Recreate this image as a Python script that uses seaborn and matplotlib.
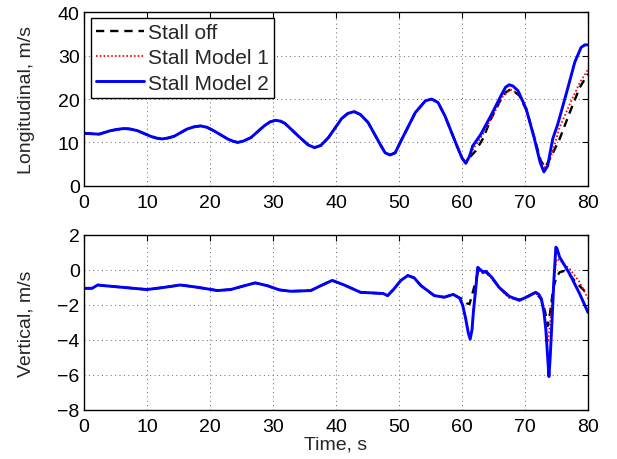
import numpy as np
import pandas as pd
import matplotlib
matplotlib.use("Agg")
import matplotlib.pyplot as plt
import seaborn as sns

# ---- data (time in s, speeds in m/s) ----
# longitudinal: part common to all three runs (t <= 60.6)
t_lon_shared = [0, 2.4, 4.2, 5.3, 6.3, 7.3, 8.5, 10.6, 11.5, 12.4, 13.3, 14.3, 16.4,
                17.5, 18.5, 19.5, 20.6, 22.8, 23.6, 24.4, 25.3, 26.5, 28.6, 29.5,
                30.4, 31.2, 31.9, 34.0, 35.6, 36.6, 37.6, 38.8, 40.9, 41.9, 42.9,
                43.9, 45.1, 47.0, 47.8, 48.6, 49.4, 50.2, 52.6, 54.2, 55.2, 56.2,
                57.3, 59.2, 60.0, 60.6]
lon_shared = [12.1, 11.9, 12.7, 13.0, 13.2, 13.1, 12.7, 11.4, 11.0, 10.8, 11.0, 11.4, 13.1,
              13.6, 13.8, 13.5, 12.7, 10.8, 10.3, 10.0, 10.3, 11.1, 13.8, 14.7,
              15.1, 14.9, 14.4, 11.5, 9.4, 8.8, 9.3, 11.1, 15.5, 16.7, 17.1,
              16.4, 14.6, 9.6, 7.6, 7.1, 7.6, 10.0, 16.9, 19.6, 20.0, 19.2,
              16.1, 9.2, 6.4, 5.2]

t_lon_off = [61.2, 62.2, 63.3, 64.6, 66.2, 67.0, 67.8, 69.1, 70.3, 71.6, 72.5, 73.2,
             74.2, 75.5, 77.1, 78.7, 80.0]
lon_off = [6.5, 8.1, 10.8, 15.4, 20.0, 21.6, 22.3, 20.8, 17.2, 10.5, 5.8, 4.2,
           6.9, 10.8, 16.9, 22.7, 25.8]

t_lon_m1 = [61.5, 62.5, 63.5, 65.0, 66.5, 67.7, 69.0, 70.2, 71.5, 72.4, 73.1, 73.8,
            74.4, 75.5, 77.1, 78.7, 80.0]
lon_m1 = [7.9, 10.0, 12.3, 16.5, 20.6, 22.2, 21.2, 17.5, 10.9, 5.8, 4.2, 5.4,
          8.0, 13.5, 18.8, 23.8, 26.8]

t_lon_m2 = [61.2, 61.7, 62.3, 63.0, 64.6, 66.2, 66.9, 67.5, 68.1, 68.9, 70.2, 71.5,
            72.4, 73.0, 73.6, 74.1, 74.4, 75.2, 76.6, 77.9, 78.9, 79.5, 80.0]
lon_m2 = [6.8, 9.2, 10.4, 11.9, 16.2, 20.8, 22.7, 23.3, 23.0, 21.9, 17.7, 10.8,
          5.4, 3.2, 4.6, 8.5, 10.8, 14.2, 21.5, 28.5, 31.9, 32.5, 32.5]

# vertical: common part (t <= 59.6)
t_vert_shared = [0, 1.3, 2.2, 3.2, 6.3, 10.0, 12.7, 15.3, 18.0, 21.2, 23.3, 25.5,
                 27.2, 29.1, 31.0, 32.8, 36.0, 37.6, 39.4, 41.3, 43.9, 46.0, 47.5,
                 48.2, 49.2, 50.3, 51.4, 52.4, 53.5, 55.6, 57.2, 58.6, 59.6]
vert_shared = [-1.05, -1.05, -0.86, -0.9, -1.0, -1.12, -1.0, -0.86, -0.99, -1.18, -1.12, -0.9,
               -0.74, -0.9, -1.14, -1.22, -1.18, -0.9, -0.6, -0.86, -1.28, -1.32, -1.35,
               -1.47, -1.09, -0.6, -0.32, -0.45, -0.9, -1.47, -1.56, -1.4, -1.6]

t_vert_off = [60.1, 60.7, 61.2, 62.0, 62.6, 63.3, 63.8, 64.8, 65.9, 67.5, 69.1, 70.5,
              71.7, 72.6, 73.2, 73.6, 74.0, 74.5, 75.0, 75.5, 76.3, 77.0, 78.1, 80.0]
vert_off = [-1.66, -1.9, -1.95, -0.9, 0.0, -0.15, -0.12, -0.5, -1.0, -1.55, -1.7, -1.5,
            -1.28, -1.7, -2.4, -3.2, -2.4, -1.0, -0.42, -0.13, -0.05, -0.25, -0.71, -1.4]

t_vert_m1 = [60.1, 60.6, 61.0, 61.3, 61.6, 61.8, 62.5, 63.3, 63.8, 64.8, 65.9, 67.5,
             69.1, 70.5, 71.7, 72.6, 73.1, 73.6, 74.0, 74.5, 75.0, 75.5, 77.1, 78.7, 80.0]
vert_m1 = [-2.0, -2.81, -3.6, -3.96, -3.4, -2.5, 0.0, -0.2, -0.15, -0.5, -1.05, -1.6,
           -1.72, -1.5, -1.3, -1.7, -2.4, -4.15, -3.0, -0.8, 0.63, 0.55, 0.06, -0.71, -1.65]

t_vert_m2 = [60.1, 60.6, 61.0, 61.3, 61.6, 61.8, 62.2, 62.5, 62.8, 63.3, 63.8, 64.8,
             65.9, 67.5, 69.1, 70.5, 71.7, 72.2, 72.6, 73.0, 73.3, 73.6, 73.8, 74.0,
             74.3, 74.6, 74.9, 75.1, 75.5, 77.1, 78.7, 80.0]
vert_m2 = [-2.0, -2.81, -3.6, -3.96, -3.4, -2.43, -1.0, 0.15, 0.05, -0.1, -0.08, -0.45,
           -1.0, -1.51, -1.74, -1.51, -1.28, -1.4, -1.66, -2.4, -3.38, -5.0, -6.1, -5.0,
           -2.81, -0.5, 1.3, 1.2, 0.73, -0.23, -1.38, -2.43]

labels = ["Stall off", "Stall Model 1", "Stall Model 2"]
styles = {"Stall off": dict(color="black", linestyle=(0, (3.5, 2.5)), linewidth=1.7),
          "Stall Model 1": dict(color="red", linestyle=(0, (0.9, 1.2)), linewidth=1.3),
          "Stall Model 2": dict(color="blue", linestyle="-", linewidth=2.1)}


def series(t_shared, v_shared, t_tail, v_tail):
    return pd.DataFrame({"t": list(t_shared) + list(t_tail),
                         "v": list(v_shared) + list(v_tail)})


lon = {"Stall off": series(t_lon_shared, lon_shared, t_lon_off, lon_off),
       "Stall Model 1": series(t_lon_shared, lon_shared, t_lon_m1, lon_m1),
       "Stall Model 2": series(t_lon_shared, lon_shared, t_lon_m2, lon_m2)}
vert = {"Stall off": series(t_vert_shared, vert_shared, t_vert_off, vert_off),
        "Stall Model 1": series(t_vert_shared, vert_shared, t_vert_m1, vert_m1),
        "Stall Model 2": series(t_vert_shared, vert_shared, t_vert_m2, vert_m2)}

sns.set_theme(style="white")
plt.rcParams["font.family"] = ["Liberation Sans", "DejaVu Sans"]
fs = 14

fig = plt.figure(figsize=(6.17, 4.60), dpi=100)
ax1 = fig.add_axes([0.136, 0.594, 0.817, 0.377])
ax2 = fig.add_axes([0.136, 0.107, 0.817, 0.380])

for ax, data in [(ax1, lon), (ax2, vert)]:
    for name in labels:
        sns.lineplot(data=data[name], x="t", y="v", ax=ax, label=name,
                     estimator=None, sort=False, **styles[name])

ax1.set_xlim(0, 80)
ax1.set_ylim(0, 40)
ax1.set_yticks([0, 10, 20, 30, 40])
ax2.set_xlim(0, 80)
ax2.set_ylim(-8, 2)
ax2.set_yticks([-8, -6, -4, -2, 0, 2])
ax2.set_yticklabels(["\u22128", "\u22126", "\u22124", "\u22122", "0", "2"])

for ax in (ax1, ax2):
    ax.set_xticks(range(0, 81, 10))
    ax.grid(True, linestyle=(0, (1, 3.5)), color="0.4", linewidth=0.7)
    ax.tick_params(direction="in", length=4.5, width=0.8, top=True, right=True,
                   labelsize=fs, colors="black")
    ax.tick_params(axis="x", pad=6)
    ax.tick_params(axis="y", pad=3)
    for s in ax.spines.values():
        s.set_color("black")
        s.set_linewidth(1.0)
    ax.set_xlabel("")

ax1.set_ylabel("Longitudinal, m/s", fontsize=fs)
ax2.set_ylabel("Vertical, m/s", fontsize=fs)
ax2.set_xlabel("Time, s", fontsize=fs, labelpad=0)
ax1.yaxis.set_label_coords(-0.098, 0.5)
ax2.yaxis.set_label_coords(-0.098, 0.5)

ax2.get_legend().remove()
leg = ax1.legend(loc="upper left", bbox_to_anchor=(0.014, 0.968), borderaxespad=0,
                 fancybox=False, edgecolor="black", framealpha=1, fontsize=15,
                 handlelength=2.3, handletextpad=0.2, labelspacing=0.3,
                 borderpad=0.25)
leg.get_frame().set_linewidth(1.0)

fig.savefig("out.png", dpi=100)
